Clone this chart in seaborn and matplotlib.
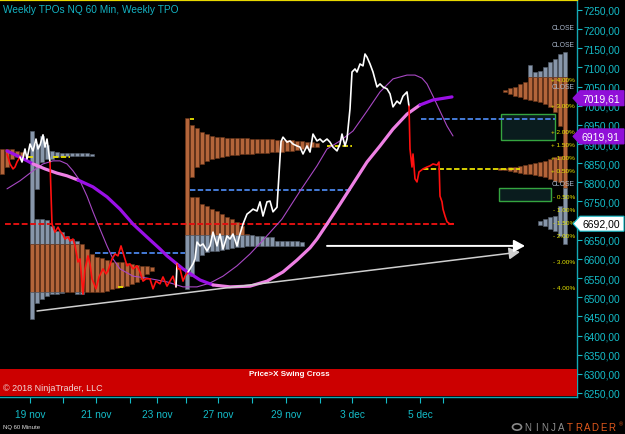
import matplotlib
matplotlib.use('Agg')
import matplotlib.pyplot as plt
import matplotlib.transforms as mtransforms
from matplotlib.patches import Rectangle, Polygon, Circle
import seaborn as sns

# ---------------- data ----------------
# hourly NQ closes (x = bar index), state: d = below swing (red), u = above (white)
price_x = [7, 10, 13, 15, 17, 20, 22, 25, 27, 30, 33, 36, 38, 40, 43, 45, 47, 50,
           52, 55, 58, 60, 63, 65, 68, 70, 73, 75, 78, 80, 83, 85, 88, 90, 92, 96, 99,
           103, 106, 108, 112, 115, 118, 121, 124, 127, 130, 133, 137, 140, 143, 146,
           150, 153, 156, 160, 163, 167, 170, 173, 176, 177, 178, 180, 183, 185, 188,
           190, 193, 195, 197, 200, 203, 207, 210, 213, 217, 220, 223, 227, 230, 233,
           237, 240, 243, 247, 250, 253, 257, 260, 263, 267, 270, 273, 277, 281, 283,
           287, 290, 293, 297, 300, 303, 307, 310, 313, 317, 320, 323, 327, 330, 333,
           337, 340, 342, 345, 347, 350, 352, 355, 357, 360, 363, 365, 367, 370, 373,
           377, 380, 383, 387, 390, 393, 397, 400, 403, 407, 409,
           410, 412, 413, 415, 417, 419, 423, 427, 430, 433, 437, 439, 440, 442, 443,
           445, 447, 450, 453]
price_y = [6874, 6848, 6835, 6840, 6853, 6866, 6853, 6887, 6861, 6900, 6882, 6913,
           6887, 6897, 6924, 6892, 6913, 6853,
           6691, 6670, 6683, 6673, 6663, 6652, 6657, 6647, 6652, 6634, 6592, 6600,
           6508, 6574, 6608, 6587, 6548, 6522, 6553, 6574, 6561, 6569, 6600, 6613,
           6608, 6634, 6608, 6582, 6587, 6574, 6582, 6566, 6542, 6548, 6548, 6522,
           6542, 6535, 6553, 6529, 6542, 6555, 6527, 6587, 6574, 6574, 6542, 6555,
           6566,
           6574, 6587, 6600, 6644, 6634, 6639, 6621, 6634, 6670, 6634, 6665, 6626,
           6660, 6652, 6665, 6634, 6665, 6691, 6717, 6723, 6730, 6725, 6749, 6712,
           6749, 6751, 6723, 6735, 6906, 6918, 6905, 6908, 6900, 6895, 6892, 6874,
           6895, 6879, 6926, 6908, 6913, 6905, 6913, 6905, 6892, 6882, 6900, 6926,
           6895, 6913, 6992, 7088, 7096, 7088, 7109, 7104, 7135, 7127, 7109, 7088,
           7049, 7057, 7049, 7044, 7031, 6997, 7012, 7005, 7025, 7036, 6999,
           6887, 6840, 6874, 6809, 6801, 6827, 6835, 6840, 6843, 6848, 6845, 6853,
           6764, 6749, 6730, 6712, 6697, 6691, 6692]
price_state = ('dddddd' + 'u' * 12 + 'd' * 43 + 'u' + 'd' * 5 + 'u' * 71 + 'd' * 19)

# slow moving average (p = falling / purple, k = rising / pink)
ma_slow_x = [7, 20, 33, 45, 57, 67, 78, 93, 107, 120, 133, 147, 160, 167, 183, 200,
             213, 230, 250, 267, 283, 297, 310, 317, 327, 340, 353, 367, 380, 393,
             407, 420, 433, 445, 452]
ma_slow_y = [6882, 6866, 6848, 6835, 6824, 6817, 6806, 6788, 6762, 6730, 6691, 6657,
             6626, 6608, 6574, 6545, 6532, 6527, 6529, 6542, 6566, 6597, 6629, 6652,
             6691, 6743, 6796, 6853, 6895, 6939, 6978, 7002, 7015, 7020, 7023]
ma_slow_state = 'ppp' + 'kkkk' + 'p' * 10 + 'k' * 15 + 'ppp'

# fast moving average
ma_fast_x = [7, 20, 33, 43, 53, 60, 67, 73, 80, 87, 93, 100, 107, 113, 120, 133, 147,
             167, 183, 197, 210, 223, 237, 250, 263, 282, 300, 317, 327, 340, 353,
             367, 380, 393, 407, 415, 422, 427, 433, 440, 447, 453]
ma_fast_y = [6783, 6804, 6830, 6848, 6856, 6856, 6848, 6830, 6804, 6764, 6723, 6678,
             6634, 6600, 6574, 6555, 6550, 6540, 6527, 6527, 6537, 6555, 6582, 6613,
             6649, 6704, 6777, 6843, 6887, 6908, 6934, 6986, 7036, 7070, 7080, 7080,
             7072, 7057, 7025, 6986, 6947, 6921]

# TPO profiles: column blocks (tops, bottoms) and value area
prof1_top = [6887, 6887, 6887, 6882, 6879]
prof1_bot = [6822, 6840, 6861, 6866, 6869]
prof1_va = (6800, 6900)

prof2_up_top = [6934, 6900, 6921, 6897, 6882, 6879, 6877, 6877, 6877, 6877, 6877,
                6877, 6874]
prof2_up_bot = [6443, 6783, 6853, 6861, 6861, 6866, 6869, 6869, 6869, 6869, 6869,
                6869, 6869]
prof2_lo_top = [6704, 6704, 6702, 6686, 6673, 6670, 6660, 6652, 6647, 6639, 6626,
                6613, 6605, 6602, 6597, 6592, 6592, 6592, 6589, 6587, 6584, 6582,
                6582, 6579]
prof2_lo_bot = [6485, 6495, 6503, 6508, 6508, 6511, 6514, 6514, 6508, 6508, 6514,
                6514, 6514, 6514, 6516, 6522, 6524, 6527, 6529, 6535, 6540, 6548,
                6561, 6569]
prof2_va = (6514, 6639)

prof3_up_top = [6968, 6950, 6942, 6931, 6926, 6921, 6918, 6918, 6916, 6916, 6916,
                6916, 6916, 6913, 6913, 6913, 6913, 6913, 6911, 6911, 6911, 6911,
                6908, 6908, 6905, 6905, 6903]
prof3_up_bot = [6522, 6814, 6840, 6848, 6856, 6861, 6864, 6866, 6869, 6871, 6871,
                6874, 6874, 6874, 6877, 6877, 6877, 6879, 6879, 6879, 6882, 6882,
                6884, 6887, 6890, 6892, 6892]
prof3_lo_top = [6762, 6762, 6743, 6738, 6730, 6725, 6717, 6710, 6704, 6697, 6686,
                6665, 6663, 6660, 6660, 6657, 6657, 6647, 6647, 6647, 6647, 6647, 6644]
prof3_lo_bot = [6555, 6595, 6610, 6618, 6621, 6621, 6623, 6626, 6629, 6631, 6631,
                6634, 6634, 6634, 6634, 6634, 6634, 6634, 6634, 6634, 6634, 6634, 6634]
prof3_va = (6663, 7000)

prof4_a_top = [7140, 7135, 7122, 7114, 7101, 7091, 7088, 7106, 7062, 7057, 7049, 7046, 7041]
prof4_a_bot = [6639, 6947, 6984, 6997, 7005, 7010, 7012, 7015, 7018, 7023, 7025, 7031, 7036]
prof4_b_top = [6869, 6866, 6861, 6856, 6853, 6851, 6848, 6845, 6843, 6840, 6840, 6838, 6838]
prof4_b_bot = [6801, 6804, 6809, 6814, 6817, 6819, 6822, 6822, 6824, 6827, 6830, 6832, 6832]
prof4_c_top = [6738, 6712, 6710, 6704, 6699]
prof4_c_bot = [6660, 6673, 6678, 6686, 6689]
prof4_va = (6785, 7075)

# key levels (start bar, end bar, price)
red_levels = [(5, 455, 6692)]
blue_levels = [(95, 185, 6616), (190, 352, 6780), (421, 555, 6965)]
yellow_levels = [(28, 33, 6866), (53, 70, 6866), (118, 123, 6527), (190, 194, 6965),
                 (327, 352, 6894), (423, 520, 6835)]

# zones (x0, x1, low, high)
zones = [(501, 555, 6911, 6978), (499, 551, 6751, 6785)]

# trend arrows (x0, p0, x1, p1)
trend_arrow = (37, 6464, 520, 6618)
flat_arrow = (327, 6634, 525, 6634)

close_levels = [7203, 7161, 7050, 6796]
pct_base = 6796
pct_levels = [4, 3, 2, 1.5, 1, 0.5, -0.5, -1, -1.5, -2, -3, -4]

tag_prices = [7019.61, 6919.91, 6692.00]
tag_fill = ['#9010d8', '#9010d8', '#ffffff']
tag_text = ['white', 'white', 'black']

yticks = list(range(6250, 7251, 50))
xtick_pos = [30, 63, 96, 130, 157, 186, 218, 252, 286, 320, 352, 386, 420, 443]
xtick_lab = ['19 nov', '', '21 nov', '', '23 nov', '', '27 nov', '', '29 nov', '',
             '3 dec', '', '5 dec', '']

# ---------------- style ----------------
sns.set_style('dark', {'axes.facecolor': 'black', 'figure.facecolor': 'black'})
plt.rcParams['font.family'] = ['Liberation Sans', 'DejaVu Sans']

CYAN = '#14bcc8'
ORANGE = '#b4653a'
GRAY = '#8796aa'

W, H = 625, 435
fig = plt.figure(figsize=(W / 100, H / 100), dpi=100, facecolor='black')
ax = fig.add_axes([0, 1 - 398 / H, 577 / W, 397 / H])
ax.set_facecolor('black')
ax.set_xlim(0, 577)
ax.set_ylim(6239.5, 7276)
ax.grid(False)


def draw_profile(start, step, first, tops, bots, va, z=2):
    xs, hs, bs, cs = [], [], [], []
    for i, (t, b) in enumerate(zip(tops, bots)):
        x = start + step * (first + i)
        parts = [(max(b, va[1]), t, GRAY), (max(b, va[0]), min(t, va[1]), ORANGE),
                 (b, min(t, va[0]), GRAY)]
        for lo, hi, c in parts:
            if hi > lo:
                xs.append(x)
                bs.append(lo)
                hs.append(hi - lo)
                cs.append(c)
    edge = ['#6a3518' if c == ORANGE else '#56606e' for c in cs]
    ax.bar(xs, hs, bottom=bs, width=4.3, align='edge', color=cs, edgecolor=edge,
           linewidth=0.4, zorder=z)


draw_profile(0, 5, 0, prof1_top, prof1_bot, prof1_va)
draw_profile(30, 5, 0, prof2_up_top, prof2_up_bot, prof2_va)
draw_profile(30, 5, 1, prof2_lo_top, prof2_lo_bot, prof2_va)
draw_profile(185, 5, 0, prof3_up_top, prof3_up_bot, prof3_va)
draw_profile(185, 5, 1, prof3_lo_top, prof3_lo_bot, prof3_va)
draw_profile(563, -5, 0, prof4_a_top, prof4_a_bot, prof4_va)
draw_profile(563, -5, 1, prof4_b_top, prof4_b_bot, prof4_va)
draw_profile(563, -5, 1, prof4_c_top, prof4_c_bot, prof4_va)

# zones
for x0, x1, lo, hi in zones:
    ax.add_patch(Rectangle((x0, lo), x1 - x0, hi - lo, facecolor='#0a1c1e',
                           edgecolor='#35a540', lw=1, zorder=3))

# levels
for x0, x1, p in red_levels:
    ax.plot([x0, x1], [p, p], color='#e01010', lw=1.4, dashes=(3, 1.3), zorder=4)
for x0, x1, p in blue_levels:
    ax.plot([x0, x1], [p, p], color='#4a84e8', lw=1.3, dashes=(3, 1.3), zorder=4)
for x0, x1, p in yellow_levels:
    ax.plot([x0, x1], [p, p], color='#e8e000', lw=1.3, dashes=(3, 1.3), zorder=4)


def draw_runs(xs, ys, states, colors, lw, z):
    n = len(xs)
    j = 1
    while j < n:
        k = j
        while k + 1 < n and states[k + 1] == states[j]:
            k += 1
        sns.lineplot(x=xs[j - 1:k + 1], y=ys[j - 1:k + 1], color=colors[states[j]],
                     lw=lw, ax=ax, sort=False, estimator=None, zorder=z)
        j = k + 1


sns.lineplot(x=ma_fast_x, y=ma_fast_y, color='#a848c4', lw=0.8, ax=ax, sort=False,
             estimator=None, zorder=5)
draw_runs(ma_slow_x, ma_slow_y, ma_slow_state, {'p': '#9b10e6', 'k': '#ee80e4'}, 2.3, 6)
draw_runs(price_x, price_y, price_state, {'u': '#ffffff', 'd': '#ff1010'}, 1.2, 7)

# arrows
for x0, p0, x1, p1 in [trend_arrow, flat_arrow]:
    col = '#cfcfcf' if p0 != p1 else 'white'
    ax.annotate('', xy=(x1, p1), xytext=(x0, p0),
                arrowprops=dict(arrowstyle='-|>,head_length=0.55,head_width=0.3',
                                color=col, lw=1.1 if p0 != p1 else 1.4,
                                mutation_scale=12, shrinkA=0, shrinkB=0), zorder=8)

# right-side labels
for p in close_levels:
    ax.text(575, p, 'CLOSE', color='#aab8cc', fontsize=4.9, ha='right', va='center',
            zorder=9)
for pc in pct_levels:
    sign = '+' if pc > 0 else '-'
    ax.text(575, pct_base * (1 + pc / 100), f'{sign} {abs(pc):.2f}%', color='#e8e800',
            fontsize=4.6, ha='right', va='center', zorder=9)

# bottom red panel
ax.add_patch(Rectangle((0, 1 / 397), 1, 27 / 397, transform=ax.transAxes,
                       facecolor='#cc0000', edgecolor='none', zorder=9))
ax.text(289 / 577, 23 / 397, 'Price>X Swing Cross', transform=ax.transAxes,
        color='white', fontsize=5.8, fontweight='bold', ha='center', va='center',
        zorder=10)
ax.text(3 / 577, 9 / 397, '\u00a9 2018 NinjaTrader, LLC', transform=ax.transAxes,
        color='#f0dada', fontsize=6.5, ha='left', va='center', zorder=10)

# axes (the label under the last-price tag is hidden, as on the chart)
ax.yaxis.tick_right()
ax.set_yticks(yticks)
ax.set_yticklabels(['' if v == 6700 else f'{v:.2f}'.replace('.', ',') for v in yticks])
ax.set_xticks(xtick_pos)
ax.set_xticklabels(xtick_lab)
ax.tick_params(axis='y', colors=CYAN, length=3.5, width=0.8, pad=1.2, labelsize=7.3,
               right=True, left=False)
ax.tick_params(axis='x', colors=CYAN, length=4, width=0.8, pad=4.5, labelsize=7.3,
               bottom=True)
ax.set_xlabel('')
ax.set_ylabel('')
ax.spines['left'].set_visible(False)
ax.spines['top'].set_color('#e8d800')
ax.spines['top'].set_linewidth(1.6)
ax.spines['right'].set_color('#14a8b4')
ax.spines['bottom'].set_color('#14a8b4')
ax.spines['right'].set_linewidth(1)
ax.spines['bottom'].set_linewidth(1)

# price tags on the axis
blend = mtransforms.blended_transform_factory(ax.transAxes, ax.transData)
half = 7.5 * (7276 - 6239.5) / 397
for p, fc, tc in zip(tag_prices, tag_fill, tag_text):
    pts = [(573 / 577, p), (580 / 577, p + half), (624 / 577, p + half),
           (624 / 577, p - half), (580 / 577, p - half)]
    ec = CYAN if fc == '#ffffff' else fc
    ax.add_patch(Polygon(pts, closed=True, transform=blend, facecolor=fc,
                         edgecolor=ec, lw=0.8, clip_on=False, zorder=20))
    ax.text(601 / 577, p, f'{p:.2f}'.replace('.', ','), transform=blend, color=tc,
            fontsize=7.5, ha='center', va='center', clip_on=False, zorder=21)

# header / footer text
fig.text(3 / W, 1 - 10 / H, 'Weekly TPOs NQ 60 Min, Weekly TPO', color='#14b4c4',
         fontsize=7.3, ha='left', va='center')
fig.text(3 / W, 1 - 428 / H, 'NQ 60 Minute', color='#e0e0e0', fontsize=4.3,
         ha='left', va='center')
fig.patches.append(Circle((517 / W, 1 - 428 / H), 4.5 / W, transform=fig.transFigure,
                          facecolor='none', edgecolor='#8a8a8a', lw=1.2))
for i, ch in enumerate('NINJATRADER'):
    fig.text((528 + i * 8.4) / W, 1 - 428 / H, ch,
             color='#8e8e8e' if i < 5 else '#e0581c', fontsize=7, ha='center',
             va='center')
fig.text(621 / W, 1 - 425 / H, '\u00ae', color='#e0581c', fontsize=4, ha='center',
         va='center')

fig.savefig('out.png', dpi=100, facecolor='black')
